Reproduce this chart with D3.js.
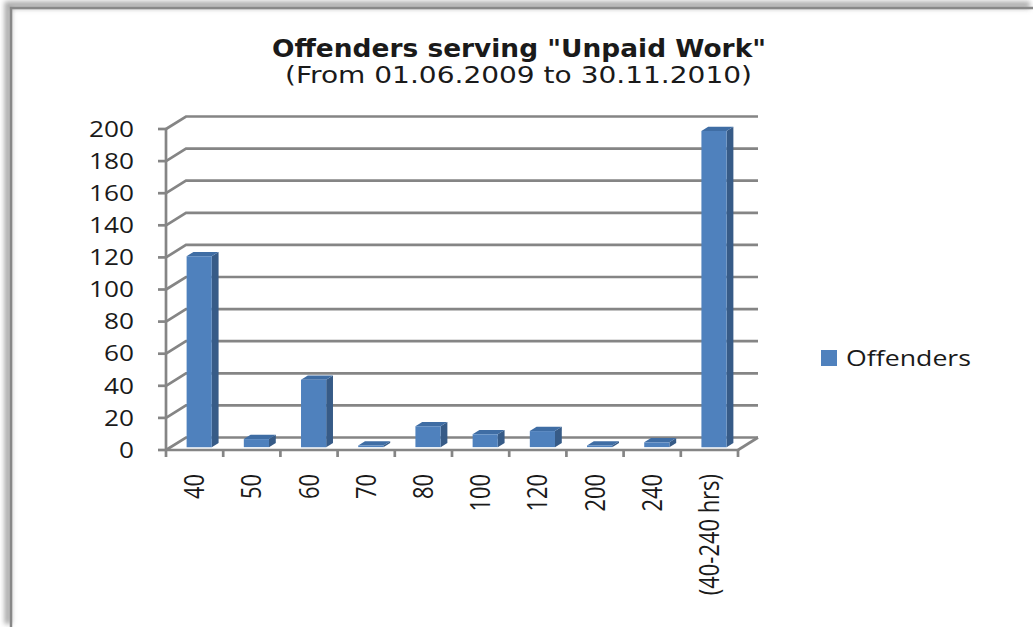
<!DOCTYPE html>
<html><head><meta charset="utf-8">
<script src="https://cdn.jsdelivr.net/npm/d3@7"></script>
<style>body{margin:0;background:#fff}svg{display:block}</style>
</head><body><svg id="c" width="1033" height="627"></svg>
<script>
const categories = ["40","50","60","70","80","100","120","200","240","(40-240 hrs)"];
const offenders = [119,5,42,1,13,8,10,1,3,197];
const yTicks = [0,20,40,60,80,100,120,140,160,180,200];
const seriesName = "Offenders";
const titleText = 'Offenders serving "Unpaid Work"';
const subtitleText = "(From 01.06.2009 to 30.11.2010)";

const svg = d3.select("#c");
const defs = svg.append("defs");
defs.append("filter").attr("id","blur").append("feGaussianBlur").attr("stdDeviation",2.5);

// frame with soft shadow
const frame = svg.append("g");
frame.append("path").attr("d","M11,627 V8 H1033").attr("fill","none")
  .attr("stroke","#aaa").attr("stroke-width",7).attr("filter","url(#blur)").attr("transform","translate(-3,-3)");
frame.append("path").attr("d","M11,627 V8 H1033").attr("fill","none")
  .attr("stroke","#888").attr("stroke-width",2.5);

// geometry
const FX0 = 166, FX1 = 738, DX = 20, DY = -12.5;
const x = d3.scaleBand().domain(categories).range([FX0, FX1]).padding(0);
const y = d3.scaleLinear().domain([0, 200]).range([450, 129]);
const P = (px, py, f) => [px + f*DX, py + f*DY];
const pt = a => a[0] + "," + a[1];

const gridC = "#858585";
const grid = svg.append("g").attr("stroke", gridC).attr("stroke-width", 2.7).attr("fill","none");
yTicks.forEach(v => {
  const yf = y(v);
  grid.append("polyline").attr("points", [P(FX0, yf, 0), P(FX0, yf, 1), P(FX1, yf, 1)].map(pt).join(" "));
});
grid.append("line").attr("x1", FX1).attr("y1", y(0)).attr("x2", FX1 + DX).attr("y2", y(0) + DY);

// bars
const bw = x.bandwidth() * 0.44, f0 = 0.23, f1 = 0.57;
const bars = svg.append("g");
categories.forEach((c, i) => {
  const v = offenders[i];
  const xl = x(c) + (x.bandwidth() - bw) / 2, xr = xl + bw;
  const y0 = y(0), yv = y(v);
  bars.append("polygon").attr("fill", "#375b87")
    .attr("points", [P(xr, yv, f0), P(xr, yv, f1), P(xr, y0, f1), P(xr, y0, f0)].map(pt).join(" "));
  bars.append("polygon").attr("fill", "#3f6da4")
    .attr("points", [P(xl, yv, f0), P(xl, yv, f1), P(xr, yv, f1), P(xr, yv, f0)].map(pt).join(" "));
  bars.append("polygon").attr("fill", "#4f81bd")
    .attr("points", [P(xl, yv, f0), P(xr, yv, f0), P(xr, y0, f0), P(xl, y0, f0)].map(pt).join(" "));
});

// front axes
const ax = svg.append("g").attr("stroke", gridC).attr("stroke-width", 2.7).attr("fill","none");
ax.append("line").attr("x1", FX0).attr("x2", FX0).attr("y1", y(0)).attr("y2", y(200));
yTicks.forEach(v => ax.append("line").attr("x1", FX0 - 8).attr("x2", FX0).attr("y1", y(v)).attr("y2", y(v)));
ax.append("line").attr("x1", FX0).attr("x2", FX1).attr("y1", y(0)).attr("y2", y(0));
const bounds = categories.map(c => x(c)).concat([FX1]);
bounds.forEach(b => ax.append("line").attr("x1", b).attr("x2", b).attr("y1", y(0)).attr("y2", y(0) + 7));

// y labels
const font = "'Open Sans', sans-serif";
yTicks.forEach(v => {
  svg.append("g").attr("transform", `translate(134,${y(v)}) scale(1.22,1)`)
    .append("text").attr("text-anchor", "end").attr("dy", "0.36em")
    .attr("font-family", font).attr("font-size", 21.5).attr("fill", "#1a1a1a").text(v);
});
// x labels
categories.forEach(c => {
  svg.append("g").attr("transform", `translate(${x(c) + x.bandwidth()/2},474) rotate(-90) scale(1.07,1.3)`)
    .append("text").attr("text-anchor", "end").attr("dy", "0.36em")
    .attr("font-family", font).attr("font-size", 20.5).attr("fill", "#1a1a1a").text(c);
});

// title
svg.append("text").attr("x", 272).attr("y", 57).attr("font-family", "'DejaVu Sans', sans-serif")
  .attr("font-weight", "bold").attr("font-size", 25).attr("fill", "#1a1a1a")
  .attr("textLength", 494).attr("lengthAdjust", "spacingAndGlyphs").text(titleText);
svg.append("text").attr("x", 285).attr("y", 83).attr("font-family", "'DejaVu Sans', sans-serif")
  .attr("font-size", 23.5).attr("fill", "#1a1a1a")
  .attr("textLength", 467).attr("lengthAdjust", "spacingAndGlyphs").text(subtitleText);

// legend
svg.append("rect").attr("x", 821).attr("y", 350).attr("width", 16).attr("height", 16).attr("fill", "#4f81bd");
svg.append("text").attr("x", 846).attr("y", 366).attr("font-family", font).attr("font-size", 22.5)
  .attr("fill", "#1a1a1a").attr("textLength", 125).attr("lengthAdjust", "spacingAndGlyphs").text(seriesName);
</script></body></html>
